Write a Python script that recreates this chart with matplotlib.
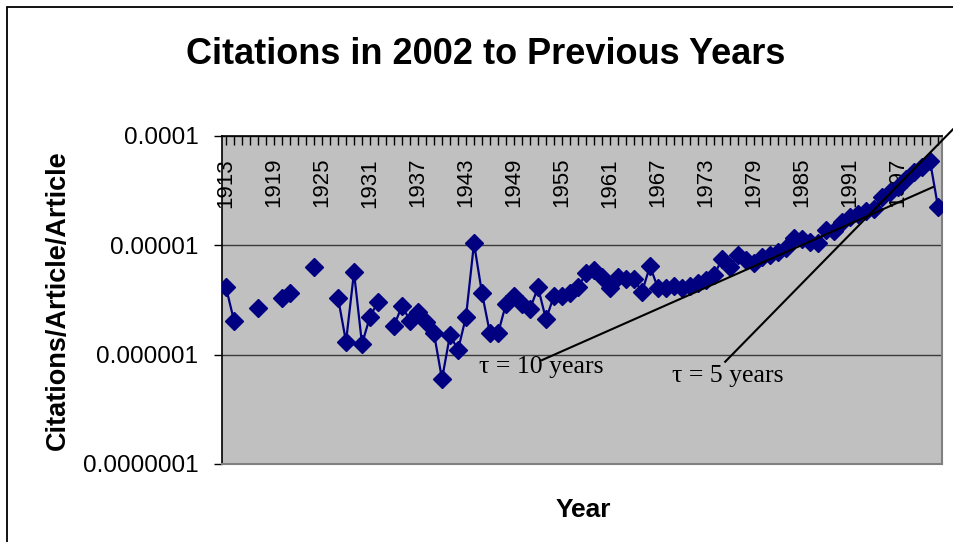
import numpy as np
import matplotlib
matplotlib.use("Agg")
import matplotlib.pyplot as plt
from matplotlib.patches import Rectangle
from matplotlib.ticker import NullLocator

plt.rcParams['font.family'] = ['Liberation Sans', 'DejaVu Sans']

# citations per article per article, 1913-2002 (nan = no data that year)
years = list(range(1913, 2003))
rate = [
    4.11e-6, 2.04e-6, np.nan, np.nan, 2.64e-6, np.nan, np.nan, 3.31e-6, 3.63e-6, np.nan,  # 1913-1922
    np.nan, 6.35e-6, np.nan, np.nan, 3.31e-6, 1.31e-6, 5.64e-6, 1.25e-6, 2.22e-6, 3.04e-6,  # 1923-1932
    np.nan, 1.83e-6, 2.79e-6, 2.04e-6, 2.46e-6, 1.97e-6, 1.56e-6, 5.97e-7, 1.51e-6, 1.10e-6,  # 1933-1942
    2.22e-6, 1.04e-5, 3.63e-6, 1.56e-6, 1.56e-6, 2.90e-6, 3.45e-6, 2.90e-6, 2.61e-6, 4.11e-6,  # 1943-1952
    2.10e-6, 3.45e-6, 3.45e-6, 3.63e-6, 4.11e-6, 5.52e-6, 5.92e-6, 5.14e-6, 4.03e-6, 5.14e-6,  # 1953-1962
    4.87e-6, 4.87e-6, 3.73e-6, 6.44e-6, 4.03e-6, 4.03e-6, 4.23e-6, 4.03e-6, 4.23e-6, 4.48e-6,  # 1963-1972
    4.80e-6, 5.33e-6, 7.41e-6, 6.35e-6, 8.12e-6, 7.31e-6, 6.82e-6, 7.73e-6, 8.12e-6, 8.70e-6,  # 1973-1982
    9.35e-6, 1.17e-5, 1.13e-5, 1.07e-5, 1.05e-5, 1.37e-5, 1.35e-5, 1.64e-5, 1.79e-5, 1.92e-5,  # 1983-1992
    2.06e-5, 2.12e-5, 2.77e-5, 3.08e-5, 3.42e-5, 3.99e-5, 4.69e-5, 5.21e-5, 5.87e-5, 2.24e-5,  # 1993-2002
]

year_labels = list(range(1913, 2003, 6))
y_ticks = [1e-7, 1e-6, 1e-5, 1e-4]
y_ticklabels = ['0.0000001', '0.000001', '0.00001', '0.0001']

# hand-drawn decay-time guide lines (start, end)
tau10_x = [1952.5, 2001.4]
tau10_y = [8.9e-7, 3.4e-5]
tau5_x = [1975.4, 2004.0]
tau5_y = [8.6e-7, 1.17e-4]

fig = plt.figure(figsize=(9.54, 5.42), dpi=100)
ax = fig.add_axes([222 / 954, 1 - 464 / 542, 720 / 954, (464 - 135.7) / 542])
ax.set_facecolor('#c0c0c0')

ax.plot(years, rate, color='#000080', lw=1.6, marker='D', markersize=9,
        markeredgecolor='#000080', zorder=3)

ax.set_yscale('log')
ax.set_ylim(1e-7, 1e-4)
ax.set_xlim(1912.5, 2002.5)
ax.set_yticks(y_ticks)
ax.set_yticklabels(y_ticklabels)
ax.yaxis.set_minor_locator(NullLocator())
ax.tick_params(axis='y', direction='out', length=6, width=1, pad=11, labelsize=17.5)
ax.yaxis.grid(True, color='#3a3a3a', lw=1)
ax.set_axisbelow(True)

# year axis sits along the top, labels hang down inside the plot
ax.xaxis.set_ticks_position('top')
ax.set_xticks(year_labels)
ax.set_xticks(years, minor=True)
ax.set_xticklabels([str(y) for y in year_labels])
ax.tick_params(axis='x', which='both', direction='in', length=6.5, width=1,
               top=True, bottom=False, labeltop=True, labelbottom=False)
ax.tick_params(axis='x', which='major', pad=-16, labelsize=16, labelrotation=90)
for lab in ax.get_xticklabels():
    lab.set_va('top')

for side in ['left', 'top']:
    ax.spines[side].set_color('black')
    ax.spines[side].set_linewidth(1.2)
for side in ['right', 'bottom']:
    ax.spines[side].set_color('#808080')
    ax.spines[side].set_linewidth(1.5)

ax.plot(tau10_x, tau10_y, color='black', lw=1.5, zorder=4, clip_on=False)
ax.plot(tau5_x, tau5_y, color='black', lw=1.5, zorder=4, clip_on=False)
ax.text(1944.6, 6.78e-7, '\u03c4 = 10 years', family='Liberation Serif',
        fontsize=18.5, ha='left', va='baseline', zorder=5)
ax.text(1968.75, 5.64e-7, '\u03c4 = 5 years', family='Liberation Serif',
        fontsize=18.5, ha='left', va='baseline', zorder=5)

fig.text(486 / 954, 1 - 55 / 542, 'Citations in 2002 to Previous Years',
         ha='center', va='center', fontsize=26, weight='bold')
fig.text(583 / 954, 1 - 510 / 542, 'Year', ha='center', va='center',
         fontsize=19, weight='bold')
fig.text(58 / 954, 1 - 300 / 542, 'Citations/Article/Article', ha='center',
         va='center', rotation=90, fontsize=19.5, weight='bold')

# chart border
fig.add_artist(Rectangle((7 / 954, -0.5), 2, 1.5 - 7 / 542, fill=False,
                         edgecolor='black', lw=1.3, transform=fig.transFigure))

fig.savefig('out.png', dpi=100)
